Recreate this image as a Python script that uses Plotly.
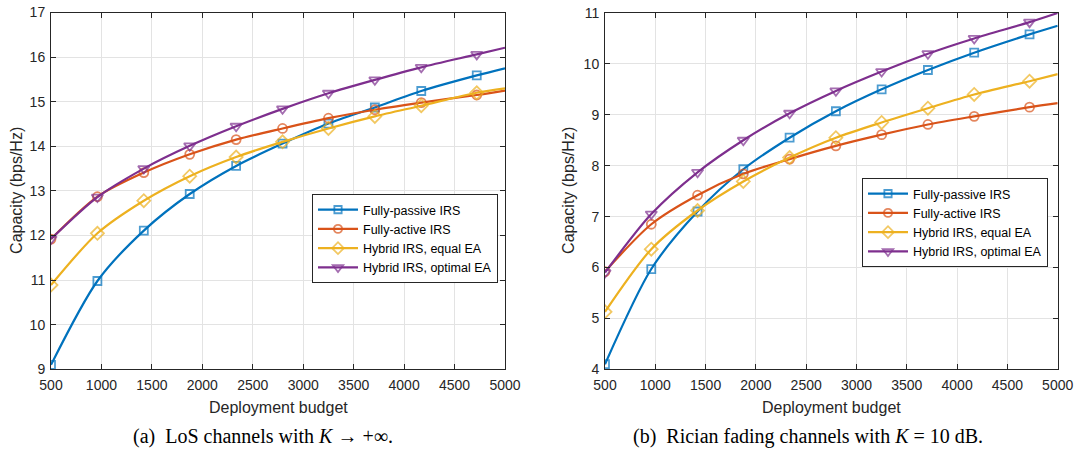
import plotly.graph_objects as go

# ---------------- data ----------------
budget = [500, 960, 1420, 1875, 2335, 2795, 3250, 3710, 4170, 4720, 5000]

# (a) LoS channels
passive_los = [9.10, 10.98, 12.11, 12.93, 13.56, 14.06, 14.51, 14.87, 15.24, 15.59, 15.75]
active_los = [11.92, 12.87, 13.41, 13.82, 14.15, 14.40, 14.63, 14.82, 14.98, 15.15, 15.25]
equal_los = [10.89, 12.05, 12.78, 13.33, 13.76, 14.10, 14.40, 14.67, 14.91, 15.20, 15.30]
optimal_los = [11.92, 12.86, 13.50, 14.01, 14.45, 14.84, 15.19, 15.49, 15.77, 16.06, 16.21]

# (b) Rician fading channels
passive_ric = [4.10, 5.97, 7.10, 7.93, 8.55, 9.07, 9.50, 9.88, 10.22, 10.58, 10.75]
active_ric = [5.92, 6.85, 7.42, 7.84, 8.13, 8.39, 8.61, 8.81, 8.97, 9.15, 9.23]
equal_ric = [5.13, 6.36, 7.12, 7.69, 8.16, 8.55, 8.85, 9.13, 9.40, 9.66, 9.80]
optimal_ric = [5.90, 7.05, 7.87, 8.50, 9.03, 9.47, 9.85, 10.20, 10.50, 10.82, 11.00]

names = ["Fully-passive IRS", "Fully-active IRS", "Hybrid IRS, equal EA", "Hybrid IRS, optimal EA"]
colors = ["#0072BD", "#D95319", "#EDB120", "#7E2F8E"]
symbols = ["square-open", "circle-open", "diamond-open", "triangle-down-open"]
msizes = [8, 9, 10, 10]

x_ticks = [500, 1000, 1500, 2000, 2500, 3000, 3500, 4000, 4500, 5000]

FONT = "Liberation Sans, Arial, Helvetica, sans-serif"
AXC = "#262626"

W, H = 1075, 459


def px(p):
    return p / W


def py(p):
    return 1 - p / H


fig = go.Figure()

panels = [
    ([passive_los, active_los, equal_los, optimal_los], "x", "y", "legend"),
    ([passive_ric, active_ric, equal_ric, optimal_ric], "x2", "y2", "legend2"),
]
for series, xa, ya, lg in panels:
    for i, vals in enumerate(series):
        sizes = [msizes[i]] * (len(budget) - 1) + [0]
        fig.add_trace(go.Scatter(
            x=budget, y=vals, name=names[i], mode="lines+markers",
            xaxis=xa, yaxis=ya, legend=lg,
            line=dict(color=colors[i], width=2.2, shape="spline", smoothing=0.8),
            marker=dict(symbol=symbols[i], size=sizes, color=colors[i],
                        line=dict(color=colors[i], width=1.8)),
        ))

axis_common = dict(
    showline=True, linecolor=AXC, linewidth=1, mirror="allticks",
    ticks="inside", ticklen=5, tickcolor=AXC, tickwidth=1,
    showgrid=True, gridcolor="#e3e3e3", gridwidth=1, zeroline=False,
    tickfont=dict(family=FONT, size=14, color=AXC), automargin=False,
)

legend_common = dict(xanchor="left", yanchor="top", bgcolor="white",
                     bordercolor=AXC, borderwidth=1,
                     font=dict(family=FONT, size=12.5, color="black"),
                     itemwidth=40, tracegroupgap=0)

fig.update_layout(
    width=W, height=H,
    margin=dict(l=0, r=0, t=0, b=0, autoexpand=False),
    paper_bgcolor="white", plot_bgcolor="white",
    showlegend=True,
    xaxis=dict(domain=[px(51), px(505)], range=[500, 5000], tickvals=x_ticks, anchor="y",
               ticklabelstandoff=3, **axis_common),
    yaxis=dict(domain=[py(369.3), py(12.5)], range=[9, 17], dtick=1, anchor="x",
               ticklabelstandoff=2, **axis_common),
    xaxis2=dict(domain=[px(605), px(1057.7)], range=[500, 5000], tickvals=x_ticks, anchor="y2",
                ticklabelstandoff=3, **axis_common),
    yaxis2=dict(domain=[py(369.3), py(13)], range=[4, 11], dtick=1, anchor="x2",
                ticklabelstandoff=2, **axis_common),
    legend=dict(x=px(312), y=py(194), **legend_common),
    legend2=dict(x=px(862), y=py(178), **legend_common),
)

# axis titles
title_font = dict(family=FONT, size=16, color=AXC)
for cx in [px((51 + 505) / 2), px((605 + 1057.7) / 2)]:
    fig.add_annotation(text="Deployment budget", x=cx, y=py(407), xref="paper", yref="paper",
                       showarrow=False, font=title_font, xanchor="center", yanchor="middle")
for cx in [px(17), px(569)]:
    fig.add_annotation(text="Capacity (bps/Hz)", x=cx, y=py((12.5 + 369.3) / 2), xref="paper", yref="paper",
                       showarrow=False, font=title_font, textangle=-90, xanchor="center", yanchor="middle")

# captions
cap_font = dict(family="Liberation Serif, Times New Roman, serif", size=20, color="black")
fig.add_annotation(text="(a)  LoS channels with <i>K</i> → +∞.", x=px(263), y=py(436),
                   xref="paper", yref="paper", showarrow=False, font=cap_font,
                   xanchor="center", yanchor="middle")
fig.add_annotation(text="(b)  Rician fading channels with <i>K</i> = 10 dB.", x=px(808), y=py(436),
                   xref="paper", yref="paper", showarrow=False, font=cap_font,
                   xanchor="center", yanchor="middle")

fig.write_html("out.html",
               config={"displayModeBar": False},
               post_script="document.body.style.margin='0';document.body.style.overflow='hidden';")
